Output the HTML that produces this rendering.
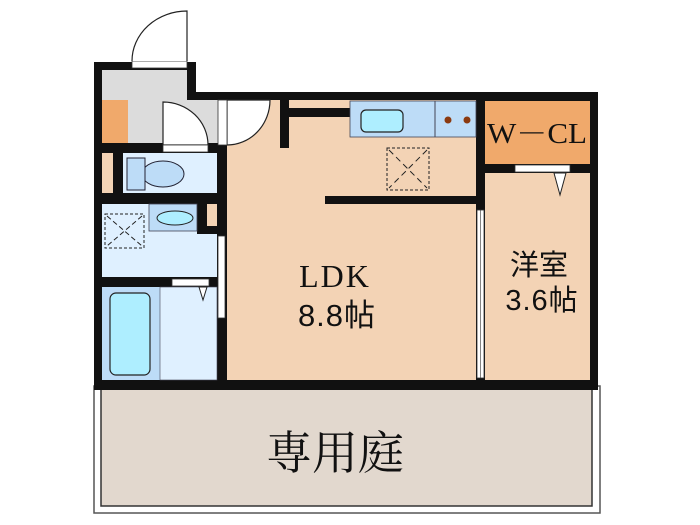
<!DOCTYPE html>
<html><head><meta charset="utf-8"><style>
html,body{margin:0;padding:0;background:#fff;width:700px;height:525px;overflow:hidden}
</style></head><body>
<svg width="700" height="525" viewBox="0 0 700 525" xmlns="http://www.w3.org/2000/svg">
<!-- garden -->
<rect x="94" y="386" width="506" height="127" fill="#fff" stroke="#555" stroke-width="1.5"/>
<rect x="101" y="388" width="491" height="118" fill="#e2d8ce" stroke="#333" stroke-width="1.5"/>
<text x="335" y="469" font-family="'Liberation Serif','Noto Serif CJK SC',serif" font-size="46" text-anchor="middle" fill="#111">専用庭</text>

<!-- main wall block -->
<rect x="94" y="62" width="102" height="328" fill="#111"/>
<rect x="94" y="92" width="504" height="298" fill="#111"/>

<!-- entry -->
<rect x="102" y="70" width="85" height="30" fill="#dcdcdc"/>
<rect x="128" y="100" width="90" height="43" fill="#dcdcdc"/>
<rect x="102" y="100" width="26" height="43" fill="#f0a96b"/>
<rect x="132" y="61" width="55" height="7" fill="#fff" stroke="#333" stroke-width="0.8"/>
<path d="M187 61 L187 11 A55 50 0 0 0 132 61" fill="#fff" stroke="#222" stroke-width="1.2"/>
<!-- toilet door -->
<path d="M163 145 L163 102 A45 43 0 0 1 208 145 Z" fill="#fff" stroke="#222" stroke-width="1.2"/>
<rect x="163" y="145" width="45" height="7" fill="#fff" stroke="#333" stroke-width="0.8"/>

<!-- LDK -->
<rect x="227" y="100" width="249" height="280" fill="#f3d3b5"/>
<path d="M227 100 L270 100 A43 45 0 0 1 227 145 Z" fill="#fff" stroke="#222" stroke-width="1.2"/>
<rect x="218" y="100" width="9" height="45" fill="#fff" stroke="#333" stroke-width="0.8"/>
<rect x="280" y="100" width="9" height="48" fill="#111"/>
<rect x="289" y="108" width="61" height="9" fill="#111"/>
<rect x="325" y="196" width="151" height="8" fill="#111"/>
<!-- kitchen counter -->
<rect x="350" y="101" width="126" height="36" fill="#bddcf7" stroke="#445" stroke-width="0.8"/>
<line x1="435" y1="101" x2="435" y2="137" stroke="#445" stroke-width="1"/>
<rect x="361" y="110" width="42" height="22" rx="5" fill="#aeeeff" stroke="#222" stroke-width="1.2"/>
<circle cx="448" cy="120" r="3.5" fill="#8b3a10"/>
<circle cx="467" cy="120" r="3.5" fill="#8b3a10"/>
<rect x="387" y="148" width="42" height="42" fill="none" stroke="#222" stroke-width="1" stroke-dasharray="3,2"/>
<path d="M389 150 L427 188 M427 150 L389 188" stroke="#222" stroke-width="1" stroke-dasharray="6,4"/>
<text x="335" y="287" font-family="'Liberation Serif',serif" font-size="32" text-anchor="middle" fill="#111" letter-spacing="2">LDK</text>
<text x="337" y="326" font-family="'Liberation Sans','Noto Sans CJK JP',sans-serif" font-size="31" text-anchor="middle" fill="#111" letter-spacing="1">8.8帖</text>

<!-- W-CL -->
<rect x="485" y="101" width="105" height="63" fill="#f0a96b"/>
<text x="487" y="143" font-family="'Liberation Serif','Noto Serif CJK JP',serif" font-size="28" textLength="100" lengthAdjust="spacingAndGlyphs" fill="#111">W－CL</text>
<!-- 洋室 -->
<rect x="485" y="173" width="105" height="207" fill="#f3d3b5"/>
<rect x="515" y="165" width="55" height="7" fill="#fff" stroke="#333" stroke-width="0.8"/>
<path d="M554 173 L566 173 L560 195 Z" fill="#fff" stroke="#222" stroke-width="1"/>
<rect x="477" y="210" width="7" height="168" fill="#fff" stroke="#333" stroke-width="0.8"/>
<line x1="480.5" y1="210" x2="480.5" y2="378" stroke="#333" stroke-width="0.6"/>
<text x="539" y="275" font-family="'Liberation Sans','Noto Sans CJK JP',sans-serif" font-size="29" text-anchor="middle" fill="#111">洋室</text>
<text x="542" y="310" font-family="'Liberation Sans','Noto Sans CJK JP',sans-serif" font-size="29" text-anchor="middle" fill="#111" letter-spacing="1">3.6帖</text>

<!-- toilet -->
<rect x="102" y="153" width="11" height="40" fill="#f3d3b5"/>
<rect x="123" y="153" width="94" height="40" fill="#dff0ff"/>
<ellipse cx="163" cy="174" rx="21" ry="13" fill="#bddcf7" stroke="#223" stroke-width="1"/>
<rect x="127" y="158" width="18" height="32" fill="#bddcf7" stroke="#223" stroke-width="1"/>

<!-- washroom -->
<rect x="102" y="204" width="115" height="73" fill="#dff0ff"/>
<rect x="197" y="204" width="20" height="30" fill="#111"/>
<rect x="207" y="204" width="10" height="22" fill="#f3d3b5"/>
<rect x="149" y="204" width="48" height="27" fill="#bddcf7" stroke="#445" stroke-width="0.8"/>
<ellipse cx="175" cy="218" rx="18" ry="7" fill="#aeeeff" stroke="#222" stroke-width="1"/>
<rect x="105" y="214" width="39" height="34" fill="none" stroke="#222" stroke-width="1" stroke-dasharray="3,2"/>
<path d="M107 216 L142 246 M142 216 L107 246" stroke="#222" stroke-width="1" stroke-dasharray="5,3"/>
<rect x="218" y="236" width="7" height="82" fill="#fff" stroke="#333" stroke-width="0.8"/>
<rect x="172" y="279" width="37" height="7" fill="#fff" stroke="#333" stroke-width="0.8"/>
<!-- bath -->
<rect x="102" y="287" width="58" height="93" fill="#bddcf7"/>
<rect x="160" y="287" width="57" height="93" fill="#dff0ff" stroke="#445" stroke-width="0.6"/>
<rect x="110" y="293" width="40" height="82" rx="6" fill="#aeeeff" stroke="#222" stroke-width="1.2"/>
<path d="M199 287 L207 287 L203 300 Z" fill="#fff" stroke="#222" stroke-width="1"/>
</svg>
</body></html>
